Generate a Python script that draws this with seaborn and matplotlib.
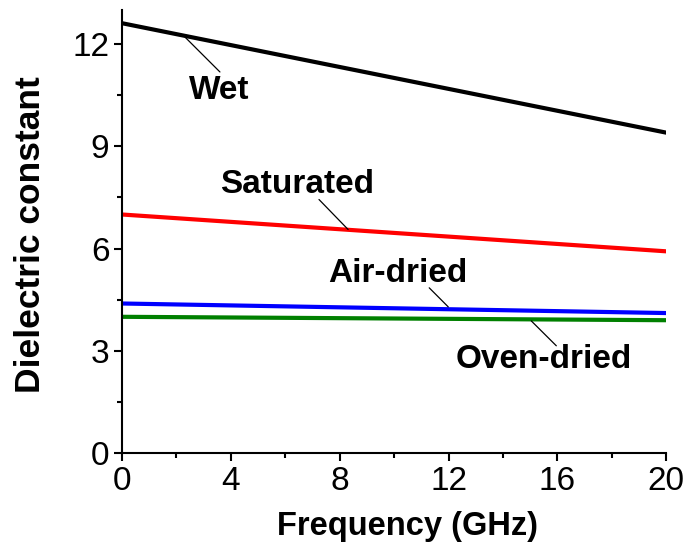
import matplotlib
matplotlib.use("Agg")
import matplotlib.pyplot as plt
import seaborn as sns
import pandas as pd
from matplotlib.ticker import MultipleLocator

freq = [0, 20]
wet = [12.61, 9.40]
saturated = [7.00, 5.92]
air_dried = [4.39, 4.11]
oven_dried = [4.00, 3.90]
series_names = ["Wet", "Saturated", "Air-dried", "Oven-dried"]
series_colors = ["#000000", "#ff0000", "#0000ff", "#008000"]

rows = []
for name, vals in zip(series_names, [wet, saturated, air_dried, oven_dried]):
    for f, v in zip(freq, vals):
        rows.append({"freq": f, "value": v, "series": name})
df = pd.DataFrame(rows)

sns.set_style("ticks")
plt.rcParams['font.family'] = ['Liberation Sans', 'DejaVu Sans']
plt.rcParams['text.color'] = 'black'
plt.rcParams['axes.labelcolor'] = 'black'
plt.rcParams['xtick.color'] = 'black'
plt.rcParams['ytick.color'] = 'black'

fig = plt.figure(figsize=(6.89, 5.5), dpi=100)
ax = fig.add_axes([0.177, 0.176, 0.790, 0.806])

sns.lineplot(data=df, x="freq", y="value", hue="series", palette=dict(zip(series_names, series_colors)),
             hue_order=series_names, linewidth=3.0, legend=False, ax=ax)

ax.set_xlim(0, 20)
ax.set_ylim(0, 13)
ax.xaxis.set_major_locator(MultipleLocator(4))
ax.xaxis.set_minor_locator(MultipleLocator(2))
ax.yaxis.set_major_locator(MultipleLocator(3))
ax.yaxis.set_minor_locator(MultipleLocator(1.5))
ax.tick_params(which="major", direction="out", length=6, width=1.5, labelsize=24, colors="black",
               labelcolor="black", pad=3)
ax.tick_params(which="minor", direction="out", length=3.5, width=1.5, colors="black")
for s in ["top", "right"]:
    ax.spines[s].set_visible(False)
for s in ["left", "bottom"]:
    ax.spines[s].set_linewidth(1.5)
    ax.spines[s].set_color("black")

ax.set_xlabel("Frequency (GHz)", fontsize=23.5, fontweight="bold", color="black")
ax.set_ylabel("Dielectric constant", fontsize=25.5, fontweight="bold", labelpad=18, color="black")
ax.xaxis.set_label_coords(0.524, -0.130)
ax.yaxis.label.set_y(0.494)

# annotations: label, text pos, leader start (on line), leader end (near text)
ann_labels = ["Wet", "Saturated", "Air-dried", "Oven-dried"]
ann_text_xy = [(3.58, 10.63), (6.43, 7.88), (10.15, 5.26), (15.51, 2.74)]
ann_line_start = [(2.32, 12.2), (8.31, 6.56), (11.99, 4.29), (15.04, 3.88)]
ann_line_end = [(3.6, 11.18), (7.24, 7.44), (11.29, 4.85), (15.96, 3.15)]
for lab, txy, ls, le in zip(ann_labels, ann_text_xy, ann_line_start, ann_line_end):
    ax.text(txy[0], txy[1], lab, fontsize=24, fontweight="bold", ha="center", va="center", color="black")
    ax.plot([ls[0], le[0]], [ls[1], le[1]], color="black", linewidth=0.9)

fig.savefig("out.png", dpi=100)
